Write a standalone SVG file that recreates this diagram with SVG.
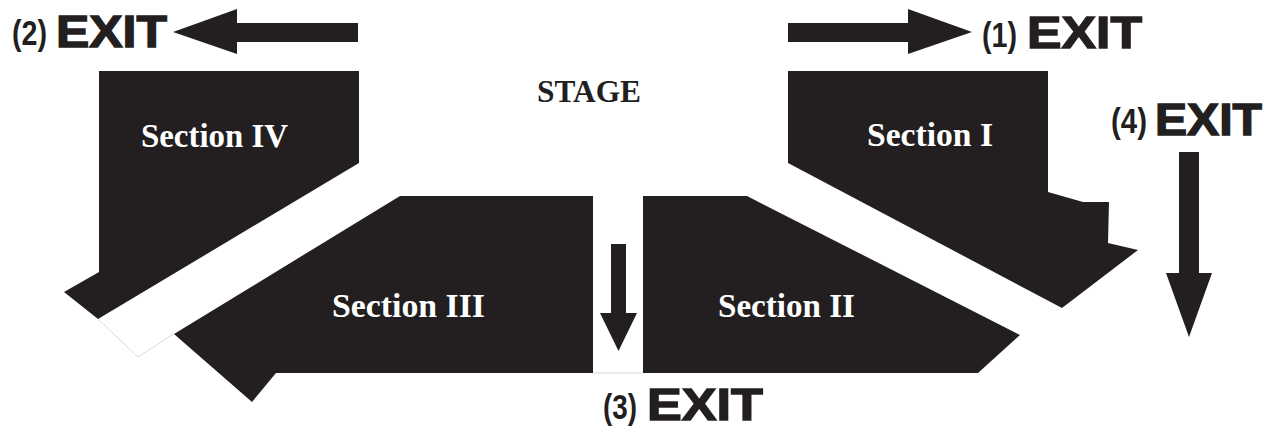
<svg xmlns="http://www.w3.org/2000/svg" width="1276" height="428" viewBox="0 0 1276 428">
  <style>
    .sec { fill: #231f20; }
    .lbl { font-family: "Liberation Serif", "Times New Roman", serif; font-weight: bold; font-size: 34px; fill: #ffffff; }
    .stage { font-family: "Liberation Serif", "Times New Roman", serif; font-weight: bold; font-size: 32px; fill: #231f20; }
    .exit { font-family: "Liberation Sans", Arial, sans-serif; font-weight: 900; font-size: 45px; fill: #231f20; stroke: #231f20; stroke-width: 1.4; }
    .num { font-family: "Liberation Sans", Arial, sans-serif; font-weight: bold; font-size: 35px; fill: #231f20; }
    .arrow { fill: #231f20; }
    .faint { fill: none; stroke: #cfcfcf; stroke-width: 0.8; }
  </style>
  <rect width="1276" height="428" fill="#ffffff"/>

  <g id="stage">
    <text class="stage" x="537" y="102" textLength="104" lengthAdjust="spacingAndGlyphs">STAGE</text>
  </g>

  <g id="section-iv">
    <polygon class="sec" points="99,71 359,71 359,163 98,319 64,292 99,272"/>
    <text class="lbl" x="141" y="147" textLength="147" lengthAdjust="spacingAndGlyphs">Section IV</text>
  </g>

  <g id="section-iii">
    <polygon class="sec" points="400,196 593,196 593,373 276,373 252,402 174,334"/>
    <text class="lbl" x="332" y="317" textLength="153" lengthAdjust="spacingAndGlyphs">Section III</text>
  </g>

  <g id="section-ii">
    <polygon class="sec" points="643,196 747,196 1020,335 978,373 643,373"/>
    <text class="lbl" x="718" y="317" textLength="137" lengthAdjust="spacingAndGlyphs">Section II</text>
  </g>

  <g id="section-i">
    <polygon class="sec" points="788,71 1048,71 1048,192 1083,202 1109,202 1108,243 1138,250 1062,308 788,163"/>
    <text class="lbl" x="867" y="146" textLength="126" lengthAdjust="spacingAndGlyphs">Section I</text>
  </g>

  <g id="aisle-edges">
    <polyline class="faint" points="98,319 138,357 175,333"/>
    <line class="faint" x1="593" y1="373" x2="643" y2="373"/>
  </g>

  <g id="exit-1">
    <text class="num" x="982" y="47" textLength="35" lengthAdjust="spacingAndGlyphs">(1)</text>
    <text class="exit" x="1027" y="48" textLength="115" lengthAdjust="spacingAndGlyphs">EXIT</text>
  </g>

  <g id="exit-2">
    <text class="num" x="12" y="45" textLength="35" lengthAdjust="spacingAndGlyphs">(2)</text>
    <text class="exit" x="56" y="47" textLength="111" lengthAdjust="spacingAndGlyphs">EXIT</text>
  </g>

  <g id="exit-3">
    <text class="num" x="603" y="419" textLength="34" lengthAdjust="spacingAndGlyphs">(3)</text>
    <text class="exit" x="647" y="420" textLength="116" lengthAdjust="spacingAndGlyphs">EXIT</text>
  </g>

  <g id="exit-4">
    <text class="num" x="1111" y="133" textLength="36" lengthAdjust="spacingAndGlyphs">(4)</text>
    <text class="exit" x="1155" y="135" textLength="107" lengthAdjust="spacingAndGlyphs">EXIT</text>
  </g>

  <g id="connectors">
    <polygon class="arrow" points="788,23 908,23 908,9 972,32 908,54 908,42 788,42"/>
    <polygon class="arrow" points="358,23 237,23 237,9 173,32 237,54 237,42 358,42"/>
    <polygon class="arrow" points="611,244 626,244 626,313 637,313 618.5,351 600,313 611,313"/>
    <polygon class="arrow" points="1179,152 1199,152 1199,273 1212,273 1189,337 1166,273 1179,273"/>
  </g>
</svg>
